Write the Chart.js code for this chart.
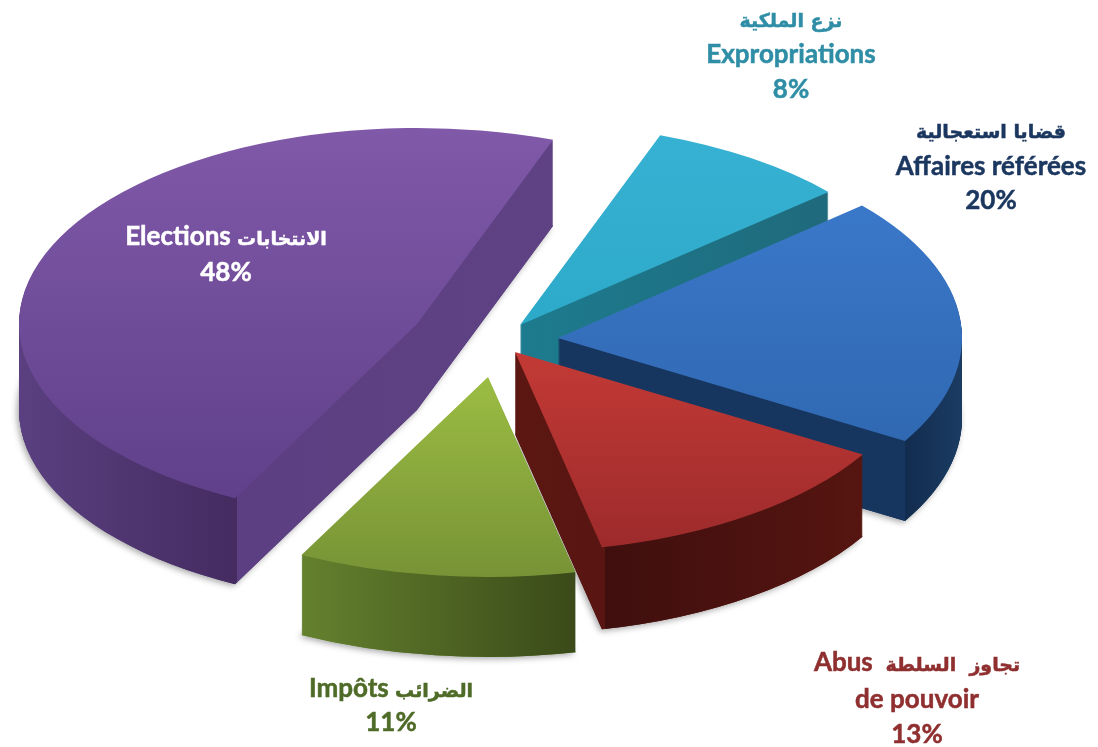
<!DOCTYPE html>
<html>
<head>
<meta charset="utf-8">
<title>Pie</title>
<script src="https://cdn.jsdelivr.net/npm/chart.js@4/dist/chart.umd.min.js"></script>
<style>
  html, body { margin: 0; padding: 0; background: #fff; }
  canvas { display: block; }
</style>
</head>
<body>
<canvas id="myChart" width="1098" height="747"></canvas>
<script>
const categories = ['Expropriations', 'Affaires référées', 'Abus de pouvoir', 'Impôts', 'Elections'];
const percents = [8, 20, 13, 11, 48];
const labelLines = [
  ['نزع الملكية', 'Expropriations', '8%'],
  ['قضايا استعجالية', 'Affaires référées', '20%'],
  ['Abus  تجاوز  السلطة', 'de pouvoir', '13%'],
  ['Impôts الضرائب', '11%'],
  ['Elections الانتخابات', '48%'],
];

// look of each slice, same order as categories
const sliceStyle = [
  { top: ['#38b2d4', '#22a0bd'], wall: [[0, '#1d7b8e'], [1, '#1f6a7c']], depth: 80, nudge: [30, -20], grow: [1.025, 1.01] },
  { top: ['#3d7ccf', '#2c62a9'], wall: [[0, '#17365f'], [0.86, '#17365f'], [0.86, '#122c4f'], [1, '#1b3c62']], depth: 80, nudge: [68, -7], grow: [1.01, 1.005] },
  { top: ['#ea4a40', '#9c2a2b'], wall: [[0, '#5c1712'], [0.26, '#581511'], [0.26, '#3f0f0e'], [1, '#561510']], depth: 82, nudge: [25, 7], grow: [1.012, 1] },
  { top: ['#c0e650', '#779336'], wall: [[0, '#64812e'], [1, '#3a4a19']], depth: 80, nudge: [-2, 32], grow: [1.02, 1] },
  { top: ['#8059a9', '#5e3f88'], wall: [[0, '#5a4080'], [0.41, '#442b60'], [0.41, '#5c3f82'], [1, '#5f4283']], depth: 86, nudge: [-73, -21], grow: [0.995, 0.98] },
];
const drawOrder = [0, 1, 4, 2, 3];

const labelStyle = [
  { color: '#2f8ea6', x: 791, y: [27, 63, 98] },
  { color: '#1b375f', x: 991, y: [138, 175, 209] },
  { color: '#8f2f2f', x: 917, y: [671, 708, 743] },
  { color: '#4f6b28', x: 391, y: [697, 731] },
  { color: '#ffffff', x: 226, y: [245, 281] },
];

const pieCentre = [490, 345];
const pieRx = 400;
const pieRy = 200;
const LATIN_FONT = 'bold 26px Lato, "DejaVu Sans"';
const ARABIC_FONT = 'bold 19px "DejaVu Sans"';

function drawSlice(ctx, arc, i, fill, shiftY) {
  const st = sliceStyle[i];
  const sx = st.grow[0] * pieRx / arc.outerRadius;
  const sy = st.grow[1] * pieRy / arc.outerRadius;
  const base = arc.options;
  ctx.save();
  ctx.translate(pieCentre[0] + st.nudge[0], pieCentre[1] + st.nudge[1] + shiftY);
  ctx.scale(sx, sy);
  ctx.translate(-arc.x, -arc.y);
  arc.options = Object.assign({}, base, { backgroundColor: fill });
  arc.draw(ctx);
  arc.options = base;
  ctx.restore();
}

const pie3d = {
  id: 'pie3d',
  beforeDatasetsDraw(chart) {
    const ctx = chart.ctx;
    const arcs = chart.getDatasetMeta(0).data;
    drawOrder.forEach(function (i) {
      const arc = arcs[i];
      const st = sliceStyle[i];
      const R = arc.outerRadius;

      // wall stops run across the slice's own width on screen
      const props = arc.getProps(['startAngle', 'endAngle']);
      let minX = 0, maxX = 0;
      for (let a = props.startAngle; a <= props.endAngle; a += 0.01) {
        minX = Math.min(minX, Math.cos(a) * R);
        maxX = Math.max(maxX, Math.cos(a) * R);
      }
      const wall = ctx.createLinearGradient(arc.x + minX, 0, arc.x + maxX, 0);
      st.wall.forEach(function (s) { wall.addColorStop(s[0], s[1]); });

      ctx.save();
      ctx.shadowColor = 'rgba(0,0,0,0.35)';
      ctx.shadowBlur = 6;
      ctx.shadowOffsetX = -2;
      ctx.shadowOffsetY = 2;
      drawSlice(ctx, arc, i, st.wall[0][1], st.depth);
      ctx.restore();

      for (let d = st.depth; d > 0; d--) {
        drawSlice(ctx, arc, i, wall, d);
      }

      const top = ctx.createLinearGradient(0, arc.y - R, 0, arc.y + R);
      top.addColorStop(0, st.top[0]);
      top.addColorStop(1, st.top[1]);
      drawSlice(ctx, arc, i, top, 0);
    });
    return false;
  },
  afterDraw(chart) {
    const ctx = chart.ctx;
    ctx.save();
    ctx.textBaseline = 'alphabetic';
    ctx.textAlign = 'left';
    labelLines.forEach(function (lines, i) {
      const st = labelStyle[i];
      ctx.fillStyle = st.color;
      ctx.strokeStyle = st.color;
      ctx.lineWidth = 0.5;
      lines.forEach(function (line, n) {
        // arabic and latin runs have different fonts, lay them out left to right
        const runs = line.match(/[\u0600-\u06FF][\u0600-\u06FF ]*|[^\u0600-\u06FF]+/g);
        let total = 0;
        const widths = runs.map(function (r) {
          ctx.font = /[\u0600-\u06FF]/.test(r) ? ARABIC_FONT : LATIN_FONT;
          const w = ctx.measureText(r).width;
          total += w;
          return w;
        });
        let x = st.x - total / 2;
        runs.forEach(function (r, k) {
          ctx.font = /[\u0600-\u06FF]/.test(r) ? ARABIC_FONT : LATIN_FONT;
          ctx.fillText(r, x, st.y[n]);
          ctx.strokeText(r, x, st.y[n]);
          x += widths[k];
        });
      });
    });
    ctx.restore();
  },
};

var ctx = document.getElementById('myChart').getContext('2d');
var chart = new Chart(ctx, {
  type: 'pie',
  data: {
    labels: categories,
    datasets: [
      {
        data: percents,
        backgroundColor: sliceStyle.map(function (s) { return s.top[0]; }),
        borderWidth: 0,
      },
    ],
  },
  options: {
    responsive: false,
    animation: false,
    events: [],
    rotation: 20,
    plugins: {
      legend: { display: false },
      tooltip: { enabled: false },
    },
  },
  plugins: [pie3d],
});
</script>
</body>
</html>
